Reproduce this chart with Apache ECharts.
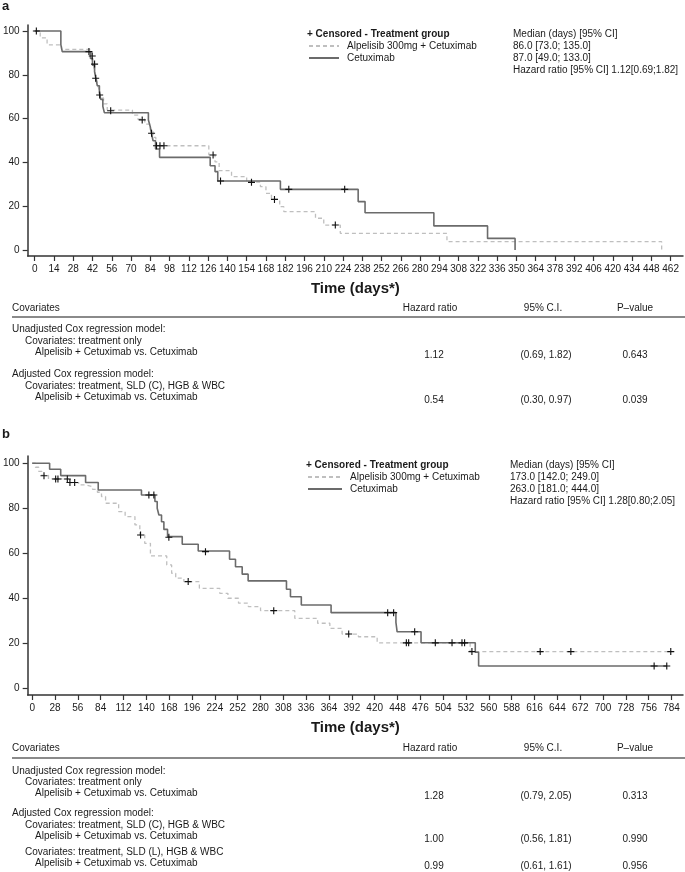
<!DOCTYPE html>
<html>
<head>
<meta charset="utf-8">
<script src="https://cdn.jsdelivr.net/npm/echarts@6/dist/echarts.min.js"></script>
<style>html,body{margin:0;padding:0;background:#fff}#c{width:685px;height:872px}</style>
</head>
<body>
<div id="c"></div>
<script>
// ---------------- DATA ----------------
const seriesNames = ['Alpelisib 300mg + Cetuximab', 'Cetuximab'];
const yTicks = [0, 20, 40, 60, 80, 100];
const xTicksA = [0,14,28,42,56,70,84,98,112,126,140,154,168,182,196,210,224,238,252,266,280,294,308,322,336,350,364,378,392,406,420,434,448,462];
const xTicksB = [0,28,56,84,112,140,168,196,224,252,280,308,336,364,392,420,448,476,504,532,560,588,616,644,672,700,728,756,784];

// Panel a: Kaplan-Meier step change points (time in days, survival %)
const aAlpT = [0,4,9,19.5,41,42,43,44,45,46,47,48,50,52.7,71,75,80,84,86,88,126.5,131,134,143,154,164,168,172,178,181,204,210,222,299.5,455.5];
const aAlpV = [100,96.9,93.7,91.6,88.9,86.1,83.3,80.5,77.8,75.0,72.2,69.4,66.7,63.9,61.6,59.7,57.5,54.8,51.4,47.6,43.4,40.2,36.2,33.5,31.0,28.9,25.9,23.1,19.8,17.5,14.5,11.4,7.6,3.8,0];
const aCetT = [0,19,20,40.5,42,43.5,44.5,45.5,47,48,49.5,50.6,82.6,84,84.8,86,87.8,90.7,127.5,131,133,178.5,235,240,290,329,349];
const aCetV = [100,93.8,90.6,87.5,84.4,81.3,78.1,75.0,71.9,68.8,65.6,62.7,59.4,56.2,53.3,49.9,46.1,42.3,38.5,35.8,31.5,27.7,22.1,17.0,11.0,5.3,0];
const aCensT = [1.2,39.4,41.8,43.5,44.3,47.2,55.2,78.1,84.9,88.5,91,93.9,129.6,135,157.5,174.2,184.6,218.4,225.2];
const aCensV = [100,90.6,88.6,84.9,78.4,70.8,63.6,59.4,53.3,47.6,47.6,47.6,43.4,31.5,30.9,23.1,27.7,11.4,27.7];

// Panel b
const bAlpT = [0,4,8,12,20,45,57,65,74,80,85,90,106,114,126,132,138,145,165,171,176,186,205,230,240,253,265,280,322,350,365,380,400,423,537,784];
const bAlpV = [100,98.2,96.4,94.6,93.0,91.4,90.4,89.6,88.4,87.1,85.2,82.2,78.5,76.3,72.6,68.1,64.4,58.8,54.8,51.1,48.9,47.4,44.4,42.2,40.0,37.8,36.3,34.5,31.1,28.9,26.6,24.1,22.9,20.2,16.3,16.3];
const bCetT = [0,21.4,35,65.5,81,134,150.5,153.3,155.4,158.6,161.5,166,184,203.6,242,249.3,257.5,264.8,311.8,316.7,330,366.5,446,447.5,476.8,543.3,547.4,778];
const bCetV = [100,97.3,94.5,91.4,88.1,85.9,83.0,80.0,77.0,74.0,70.6,67.4,64.0,61.0,57.3,54.0,50.7,47.7,44.0,40.7,37.0,33.6,29.3,25.1,20.2,16.0,9.9,9.9];
const bCensT = [14.5,28.8,31.6,43.1,46.3,52.1,132.9,143.1,149.2,167.6,191.3,212.5,296.2,388.1,435.9,443.2,458.8,461.6,469,494.3,514.8,527,530.2,539.2,622.9,660.5,783,762.6,778.1];
const bCensV = [94.4,93.0,93.0,93.0,91.4,91.4,68.1,85.9,85.9,67.1,47.4,60.7,34.5,24.1,33.6,33.6,20.2,20.2,25.1,20.2,20.2,20.2,20.2,16.3,16.3,16.3,16.3,9.9,9.9];

// Text blocks
const legendTitle = '+ Censored - Treatment group';
const statsA = ['Median (days) [95% CI]', '86.0 [73.0; 135.0]', '87.0 [49.0; 133.0]', 'Hazard ratio [95% CI] 1.12[0.69;1.82]'];
const statsB = ['Median (days) [95% CI]', '173.0 [142.0; 249.0]', '263.0 [181.0; 444.0]', 'Hazard ratio [95% CI] 1.28[0.80;2.05]'];
const tableHeader = ['Covariates', 'Hazard ratio', '95% C.I.', 'P\u2013value'];
const tableALabels = ['Unadjusted Cox regression model:', 'Covariates: treatment only', 'Alpelisib + Cetuximab vs. Cetuximab',
                      'Adjusted Cox regression model:', 'Covariates: treatment, SLD (C), HGB & WBC', 'Alpelisib + Cetuximab vs. Cetuximab'];
const tableAHR = ['1.12', '0.54'];
const tableACI = ['(0.69, 1.82)', '(0.30, 0.97)'];
const tableAP  = ['0.643', '0.039'];
const tableBLabels = ['Unadjusted Cox regression model:', 'Covariates: treatment only', 'Alpelisib + Cetuximab vs. Cetuximab',
                      'Adjusted Cox regression model:', 'Covariates: treatment, SLD (C), HGB & WBC', 'Alpelisib + Cetuximab vs. Cetuximab',
                      'Covariates: treatment, SLD (L), HGB & WBC', 'Alpelisib + Cetuximab vs. Cetuximab'];
const tableBHR = ['1.28', '1.00', '0.99'];
const tableBCI = ['(0.79, 2.05)', '(0.56, 1.81)', '(0.61, 1.61)'];
const tableBP  = ['0.313', '0.990', '0.956'];

// ---------------- LAYOUT / STYLE ----------------
const FONT = '"Liberation Sans", Arial, Helvetica, sans-serif';
const TXT = '#1a1a1a';
const AX = '#333';
const pts = (t, v) => t.map((x, i) => [x, v[i]]);
const PLUS = 'path://M4.2,0h1.6v4.2h4.2v1.6h-4.2v4.2h-1.6v-4.2h-4.2v-1.6h4.2z';

function xAxisCfg(gi, min, max, ticks, gap) {
  return {
    type: 'value', gridIndex: gi, min: min, max: max,
    name: 'Time (days*)', nameLocation: 'middle', nameGap: gap,
    nameTextStyle: {fontFamily: FONT, fontSize: 15, fontWeight: 'bold', color: TXT},
    axisLine: {show: true, onZero: false, lineStyle: {color: AX, width: 1.5}},
    axisTick: {show: true, length: 5, customValues: ticks, lineStyle: {color: AX, width: 1.2}},
    axisLabel: {show: true, customValues: ticks, fontFamily: FONT, fontSize: 10, color: TXT, margin: 8},
    splitLine: {show: false}
  };
}
function yAxisCfg(gi, min, max) {
  return {
    type: 'value', gridIndex: gi, min: min, max: max,
    axisLine: {show: true, onZero: false, lineStyle: {color: AX, width: 1.5}},
    axisTick: {show: true, length: 5, customValues: yTicks, lineStyle: {color: AX, width: 1.2}},
    axisLabel: {show: true, customValues: yTicks, fontFamily: FONT, fontSize: 10, color: TXT, margin: 8},
    splitLine: {show: false}
  };
}
function curves(gi, alpT, alpV, cetT, cetV, cT, cV) {
  return [
    {type: 'line', name: seriesNames[0], xAxisIndex: gi, yAxisIndex: gi, data: pts(alpT, alpV), step: 'end',
     symbol: 'none', z: 2, lineStyle: {color: '#bfbfbf', width: 1.3, type: [4, 3]}, itemStyle: {color: '#bfbfbf'}},
    {type: 'line', name: seriesNames[1], xAxisIndex: gi, yAxisIndex: gi, data: pts(cetT, cetV), step: 'end',
     symbol: 'none', z: 3, lineStyle: {color: '#6b6b6b', width: 1.6}, itemStyle: {color: '#6b6b6b'}},
    {type: 'scatter', name: 'Censored', xAxisIndex: gi, yAxisIndex: gi, data: pts(cT, cV),
     symbol: PLUS, symbolSize: 7, z: 4, itemStyle: {color: '#111', opacity: 1}}
  ];
}

const graphics = [];
function txt(x, y, s, align, opts) {
  graphics.push({type: 'text', x: x, y: y, silent: true,
    style: Object.assign({text: s, fontFamily: FONT, fontSize: 10, fill: TXT,
      align: align, textAlign: align, verticalAlign: 'middle', textVerticalAlign: 'middle'}, opts || {})});
}
function table(yHeader, yRule, labels, rowYs, indents, valueRows, hr, ci, p) {
  txt(12, yHeader, tableHeader[0], 'left');
  txt(430, yHeader, tableHeader[1], 'center');
  txt(543, yHeader, tableHeader[2], 'center');
  txt(635, yHeader, tableHeader[3], 'center');
  graphics.push({type: 'line', silent: true, shape: {x1: 12, y1: yRule, x2: 685, y2: yRule},
                 style: {stroke: '#8a8a8a', lineWidth: 2}});
  labels.forEach((l, i) => txt(12 + indents[i], rowYs[i], l, 'left'));
  valueRows.forEach((ri, k) => {
    const y = rowYs[ri] + 3;
    txt(434, y, hr[k], 'center');
    txt(546, y, ci[k], 'center');
    txt(635, y, p[k], 'center');
  });
}
table(308, 317, tableALabels, [329, 341, 352, 374, 386, 397], [0, 13, 23, 0, 13, 23], [2, 5], tableAHR, tableACI, tableAP);
table(748, 758, tableBLabels, [771, 782, 793, 813, 825, 836, 852, 863], [0, 13, 23, 0, 13, 23, 13, 23], [2, 5, 7], tableBHR, tableBCI, tableBP);

function titleBlock(left, top, lines, bold, size) {
  return {left: left, top: top, padding: 0, text: lines.join('\n'),
    textStyle: {fontFamily: FONT, fontSize: size || 10, fontWeight: bold ? 'bold' : 'normal', color: TXT, lineHeight: 12}};
}
function legendCfg(left, top, w) {
  return {data: seriesNames, left: left, top: top, orient: 'vertical', itemWidth: w, itemHeight: 12, itemGap: 0,
    padding: 0, selectedMode: false, itemStyle: {opacity: 0, borderWidth: 0},
    textStyle: {fontFamily: FONT, fontSize: 10, color: TXT, padding: [0, 0, 0, 3], lineHeight: 12}};
}

const option = {
  animation: false,
  backgroundColor: '#fff',
  title: [
    titleBlock(2, 0, ['a'], true, 13),
    titleBlock(307, 28, [legendTitle], true),
    titleBlock(513, 28, statsA, false),
    titleBlock(2, 428, ['b'], true, 13),
    titleBlock(306, 459, [legendTitle], true),
    titleBlock(510, 459, statsB, false)
  ],
  legend: [legendCfg(308, 40, 30), legendCfg(307, 471, 34)],
  grid: [
    {left: 27, top: 25, width: 656, height: 231, containLabel: false},
    {left: 27, top: 456, width: 656, height: 239, containLabel: false}
  ],
  xAxis: [xAxisCfg(0, -5.1, 471, xTicksA, 25), xAxisCfg(1, -5.5, 798, xTicksB, 25)],
  yAxis: [yAxisCfg(0, -2.74, 102.74), yAxisCfg(1, -2.98, 103.2)],
  series: [].concat(
    curves(0, aAlpT, aAlpV, aCetT, aCetV, aCensT, aCensV),
    curves(1, bAlpT, bAlpV, bCetT, bCetV, bCensT, bCensV)
  ),
  graphic: graphics
};

const chart = echarts.init(document.getElementById('c'), null, {renderer: 'canvas'});
chart.setOption(option);
</script>
</body>
</html>
